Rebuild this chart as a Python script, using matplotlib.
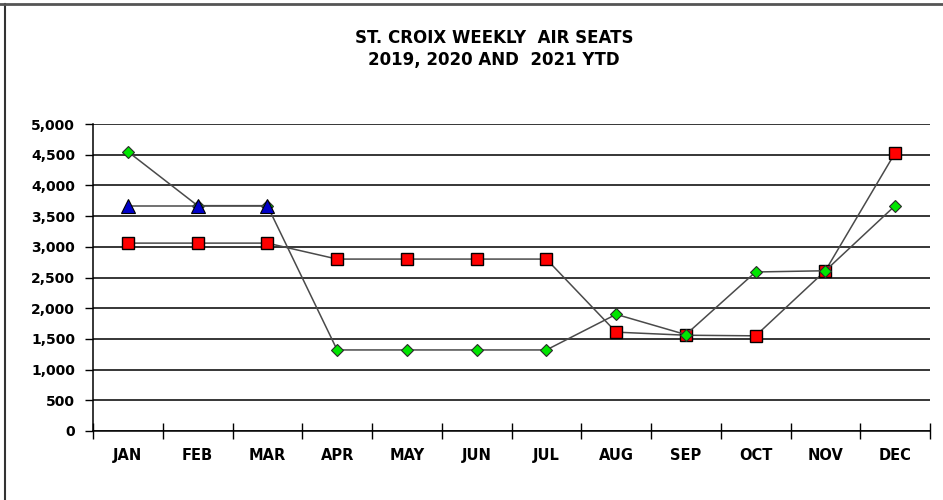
import matplotlib.pyplot as plt
from matplotlib.lines import Line2D
from matplotlib.ticker import FuncFormatter

months = ["JAN", "FEB", "MAR", "APR", "MAY", "JUN",
          "JUL", "AUG", "SEP", "OCT", "NOV", "DEC"]

# weekly air seats
seats_2019 = [4550, 3670, 3670, 1320, 1320, 1320, 1320, 1900, 1570, 2590, 2610, 3670]
seats_2020 = [3060, 3060, 3060, 2800, 2800, 2800, 2800, 1610, 1560, 1550, 2610, 4530]
seats_2021 = [3670, 3670, 3670]

fig = plt.figure(figsize=(9.43, 5.0), dpi=100)
ax = fig.add_axes([93 / 943, 1 - 431 / 500, (930 - 93) / 943, (431 - 124) / 500])

x19 = [i + 0.5 for i in range(len(seats_2019))]
x20 = [i + 0.5 for i in range(len(seats_2020))]
x21 = [i + 0.5 for i in range(len(seats_2021))]

line_col = "#4a4a4a"
ax.plot(x20, seats_2020, color=line_col, lw=1.1, marker="s", ms=9,
        mfc="#ff0000", mec="black", mew=1.0, zorder=3)
ax.plot(x19, seats_2019, color=line_col, lw=1.1, marker="D", ms=6.5,
        mfc="#00e600", mec="#2a2a2a", mew=0.8, zorder=4)
ax.plot(x21, seats_2021, color=line_col, lw=1.1, marker="^", ms=9.5,
        mfc="#0000c8", mec="black", mew=0.8, zorder=5)

ax.set_xlim(0, 12)
ax.set_ylim(0, 5000)
ax.set_yticks(range(0, 5001, 500))
ax.yaxis.set_major_formatter(FuncFormatter(lambda v, p: f"{int(v):,}"))
ax.set_xticks(range(0, 13))
ax.set_xticklabels([])
ax.set_xticks(x19, minor=True)
ax.set_xticklabels(months, minor=True)
ax.tick_params(axis="x", which="major", direction="inout", length=12, width=1, color="black")
ax.tick_params(axis="x", which="minor", length=0, pad=12)
ax.tick_params(axis="y", direction="out", length=6, width=1, pad=7)

for lbl in ax.get_yticklabels():
    lbl.set_fontfamily("DejaVu Sans")
    lbl.set_fontweight("bold")
    lbl.set_fontsize(10)
for lbl in ax.get_xticklabels(minor=True):
    lbl.set_fontfamily("DejaVu Sans")
    lbl.set_fontweight("bold")
    lbl.set_fontsize(10.5)

ax.grid(axis="y", color="black", lw=1.1)
ax.set_axisbelow(True)
for s in ["top", "right"]:
    ax.spines[s].set_visible(False)
ax.spines["left"].set_linewidth(1.1)
ax.spines["bottom"].set_linewidth(1.1)

title_kw = dict(ha="center", va="center", fontsize=12, fontweight="bold",
                family="DejaVu Sans")
fig.text(494 / 943, 1 - 38 / 500, "ST. CROIX WEEKLY  AIR SEATS", **title_kw)
fig.text(494 / 943, 1 - 60 / 500, "2019, 2020 AND  2021 YTD", **title_kw)

# frame edges visible in the crop
fig.add_artist(Line2D([5 / 943, 5 / 943], [0, 1 - 4 / 500], color="#333333", lw=1.5,
                      transform=fig.transFigure))
fig.add_artist(Line2D([0, 1], [1 - 4 / 500, 1 - 4 / 500], color="#555555", lw=2,
                      transform=fig.transFigure))

fig.savefig("out.png", dpi=100)
